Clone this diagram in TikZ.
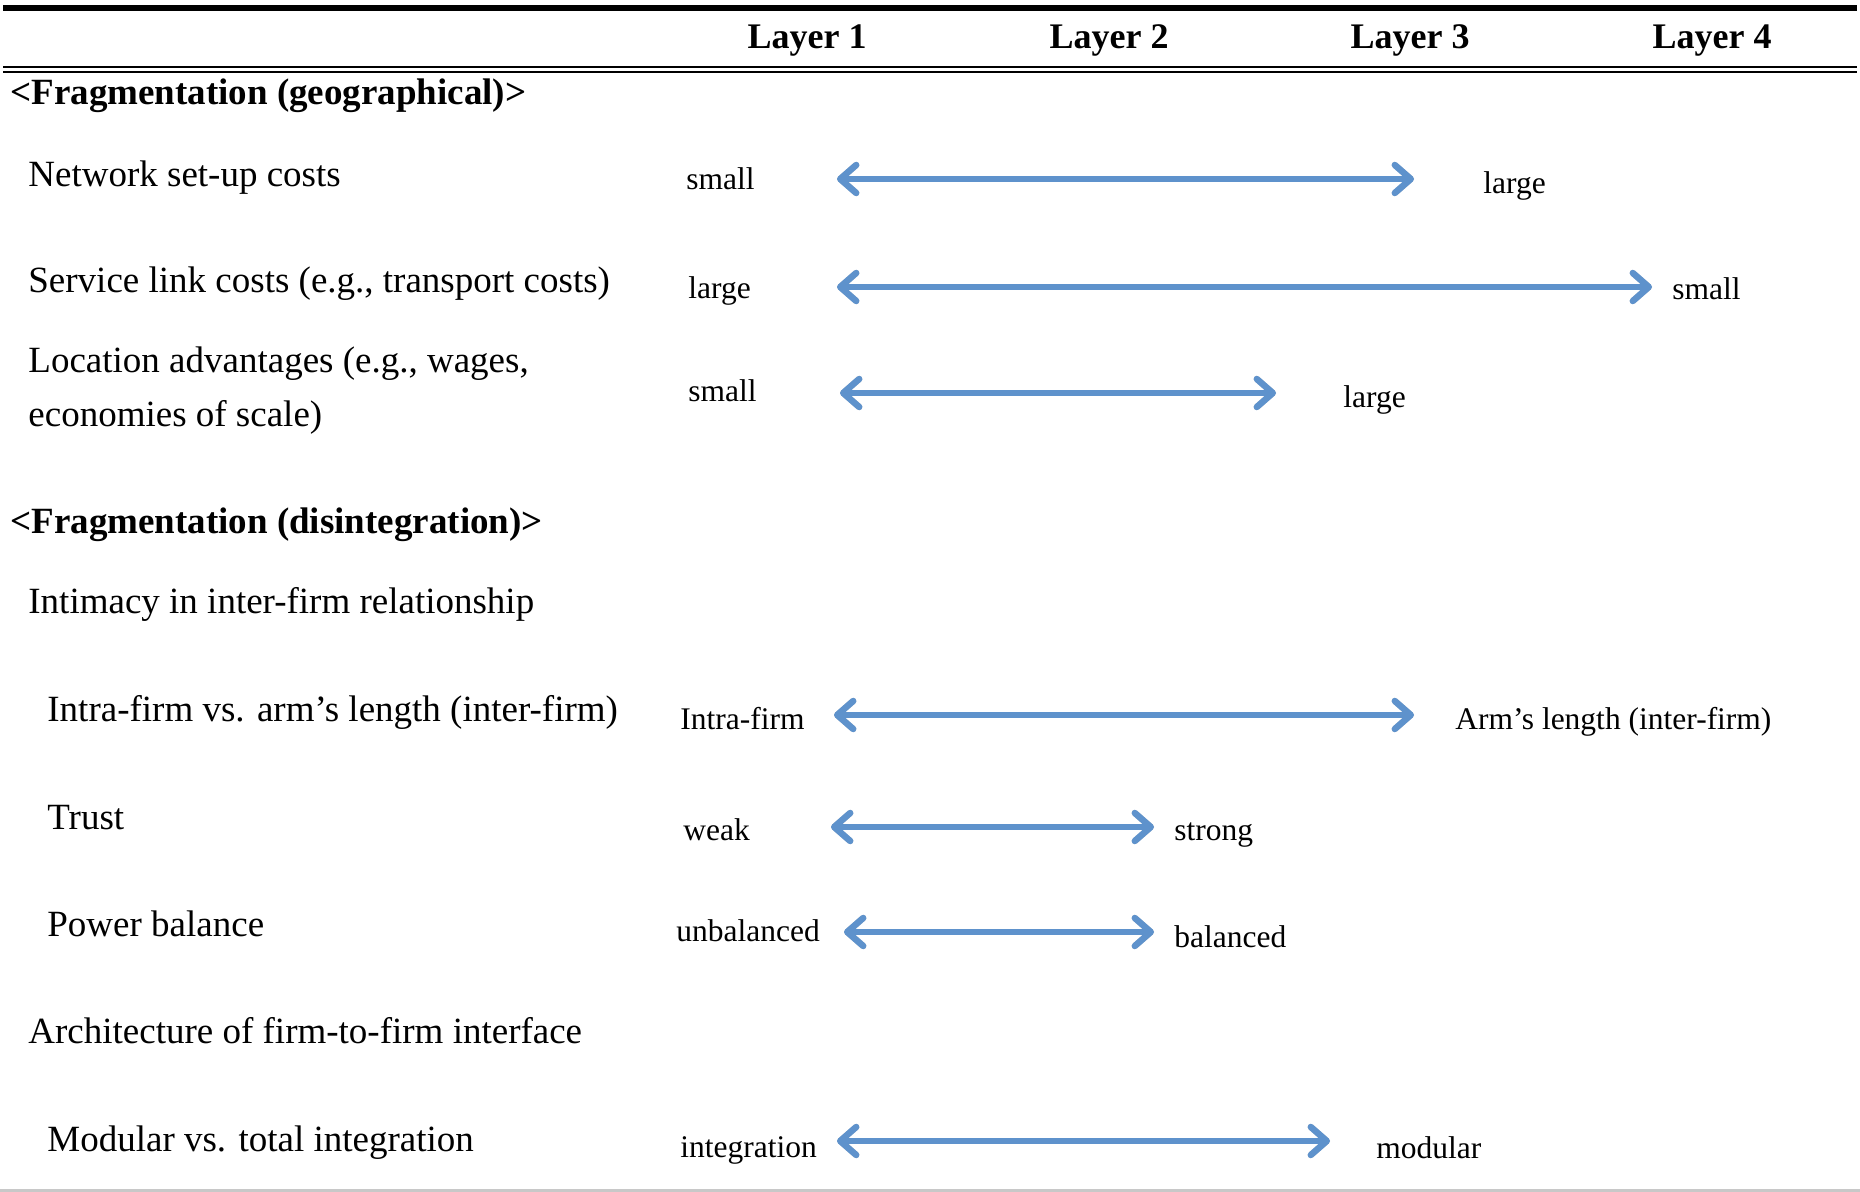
\documentclass[tikz,border=0pt]{standalone}
\usepackage{fontspec}
\setmainfont{Liberation Serif}
\usetikzlibrary{arrows.meta}
\definecolor{arrowblue}{RGB}{94,146,204}
\definecolor{rulegray}{RGB}{200,200,200}
\begin{document}
\begin{tikzpicture}[x=0.5pt,y=-0.5pt,
  hdr/.style={font=\fontsize{18}{20}\selectfont\bfseries, anchor=base, inner sep=0pt},
  sec/.style={font=\fontsize{18.5}{21}\selectfont\bfseries, anchor=base west, inner sep=0pt},
  lbl/.style={font=\fontsize{18.5}{21}\selectfont, anchor=base west, inner sep=0pt},
  val/.style={font=\fontsize{15.75}{18}\selectfont, anchor=base west, inner sep=0pt},
  barbs/.style={{Straight Barb[length=8pt,width=14pt,line join=round,line cap=round]}-{Straight Barb[length=8pt,width=14pt,line join=round,line cap=round]}},
  span/.style={draw=arrowblue, line width=3.2pt, barbs},
  spanshadow/.style={draw=black, opacity=0.18, line width=3.2pt, shift={(1,4)}, barbs}
]
\useasboundingbox (0,0) rectangle (1860,1192);

% table rules
\coordinate (t0) at (3,8);    \coordinate (t1) at (1857,8);
\coordinate (d0) at (3,67);   \coordinate (d1) at (1857,67);
\coordinate (e0) at (3,72);   \coordinate (e1) at (1857,72);
\coordinate (b0) at (0,1190.5); \coordinate (b1) at (1860,1190.5);
\draw[line width=3pt] (t0) -- (t1);
\draw[line width=1.35pt] (d0) -- (d1);
\draw[line width=1.35pt] (e0) -- (e1);
\draw[rulegray, line width=1.2pt] (b0) -- (b1);

% column heads
\node[hdr] (L1) at (807,49) {Layer 1};
\node[hdr] (L2) at (1109,49) {Layer 2};
\node[hdr] (L3) at (1410,49) {Layer 3};
\node[hdr] (L4) at (1712,49) {Layer 4};

% geographical fragmentation
\node[sec] (s1) at (10,105) {<Fragmentation (geographical)>};

\node[lbl] (r1) at (28,187) {Network set-up costs};
\node[val] (r1a) at (686,190) {small};
\node[val] (r1b) at (1483,194) {large};
\coordinate (r1l) at (837,179); \coordinate (r1r) at (1414,179);

\node[lbl] (r2) at (28,293) {Service link costs (e.g., transport costs)};
\node[val] (r2a) at (688,299) {large};
\node[val] (r2b) at (1672,300) {small};
\coordinate (r2l) at (837,287); \coordinate (r2r) at (1652,287);

\node[lbl] (r3) at (28,373) {Location advantages (e.g., wages,};
\node[lbl] (r3x) at (28,427) {economies of scale)};
\node[val] (r3a) at (688,402) {small};
\node[val] (r3b) at (1343,408) {large};
\coordinate (r3l) at (840,393); \coordinate (r3r) at (1276,393);

% disintegration
\node[sec] (s2) at (10,534) {<Fragmentation (disintegration)>};
\node[lbl] (g1) at (28,614) {Intimacy in inter-firm relationship};

\node[lbl] (r4) at (47,721) {Intra-firm vs. arm’s length (inter-firm)};
\node[val] (r4a) at (680,730) {Intra-firm};
\node[val] (r4b) at (1455,730) {Arm’s length (inter-firm)};
\coordinate (r4l) at (834,715); \coordinate (r4r) at (1414,715);

\node[lbl] (r5) at (47,829) {Trust};
\node[val] (r5a) at (683,840) {weak};
\node[val] (r5b) at (1174,840) {strong};
\coordinate (r5l) at (831,827); \coordinate (r5r) at (1154,827);

\node[lbl] (r6) at (47,936) {Power balance};
\node[val] (r6a) at (676,941) {unbalanced};
\node[val] (r6b) at (1174,947) {balanced};
\coordinate (r6l) at (844,932); \coordinate (r6r) at (1154,932);

\node[lbl] (g2) at (28,1043) {Architecture of firm-to-firm interface};

\node[lbl] (r7) at (47,1151) {Modular vs. total integration};
\node[val] (r7a) at (680,1157) {integration};
\node[val] (r7b) at (1376,1158) {modular};
\coordinate (r7l) at (837,1141); \coordinate (r7r) at (1330,1141);

% range arrows with soft drop shadow
\foreach \r in {r1,r2,r3,r4,r5,r6,r7} {
  \draw[spanshadow] (\r l) -- (\r r);
  \draw[span] (\r l) -- (\r r);
}
\end{tikzpicture}
\end{document}
